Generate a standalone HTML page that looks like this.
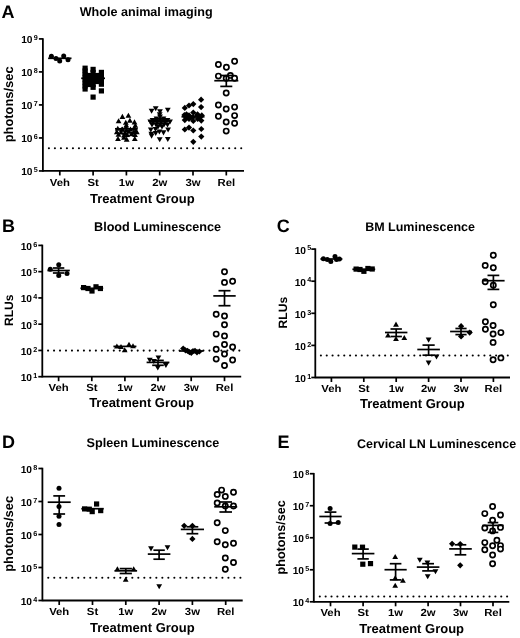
<!DOCTYPE html>
<html><head><meta charset="utf-8"><style>
html,body{margin:0;padding:0;background:#fff;}
body{width:520px;height:638px;overflow:hidden;}
svg{display:block;will-change:transform;}
text{font-family:"Liberation Sans", sans-serif;fill:#000;text-rendering:geometricPrecision;}
</style></head><body>
<svg width="520" height="638" viewBox="0 0 520 638">
<rect width="520" height="638" fill="#fff"/>
<line x1="42.90" y1="38.15" x2="42.90" y2="171.70" stroke="#000" stroke-width="1.8" />
<line x1="38.90" y1="38.90" x2="42.90" y2="38.90" stroke="#000" stroke-width="1.7" />
<line x1="38.90" y1="71.91" x2="42.90" y2="71.91" stroke="#000" stroke-width="1.7" />
<line x1="38.90" y1="104.92" x2="42.90" y2="104.92" stroke="#000" stroke-width="1.7" />
<line x1="38.90" y1="137.94" x2="42.90" y2="137.94" stroke="#000" stroke-width="1.7" />
<line x1="38.90" y1="170.95" x2="42.90" y2="170.95" stroke="#000" stroke-width="1.7" />
<line x1="42.90" y1="170.95" x2="244.00" y2="170.95" stroke="#000" stroke-width="1.8" />
<line x1="59.80" y1="170.95" x2="59.80" y2="175.45" stroke="#000" stroke-width="1.7" />
<line x1="93.10" y1="170.95" x2="93.10" y2="175.45" stroke="#000" stroke-width="1.7" />
<line x1="126.40" y1="170.95" x2="126.40" y2="175.45" stroke="#000" stroke-width="1.7" />
<line x1="159.70" y1="170.95" x2="159.70" y2="175.45" stroke="#000" stroke-width="1.7" />
<line x1="193.00" y1="170.95" x2="193.00" y2="175.45" stroke="#000" stroke-width="1.7" />
<line x1="226.30" y1="170.95" x2="226.30" y2="175.45" stroke="#000" stroke-width="1.7" />
<text x="32.50" y="43.30" font-size="10.2" font-weight="bold" text-anchor="end">10</text>
<text x="33.75" y="40.10" font-size="7.2" font-weight="bold">9</text>
<text x="32.50" y="76.31" font-size="10.2" font-weight="bold" text-anchor="end">10</text>
<text x="33.75" y="73.11" font-size="7.2" font-weight="bold">8</text>
<text x="32.50" y="109.32" font-size="10.2" font-weight="bold" text-anchor="end">10</text>
<text x="33.75" y="106.12" font-size="7.2" font-weight="bold">7</text>
<text x="32.50" y="142.34" font-size="10.2" font-weight="bold" text-anchor="end">10</text>
<text x="33.75" y="139.14" font-size="7.2" font-weight="bold">6</text>
<text x="32.50" y="175.35" font-size="10.2" font-weight="bold" text-anchor="end">10</text>
<text x="33.75" y="172.15" font-size="7.2" font-weight="bold">5</text>
<text transform="translate(59.80,186.20) scale(1.1,1)" font-size="10.3" font-weight="bold" text-anchor="middle">Veh</text>
<text transform="translate(93.10,186.20) scale(1.1,1)" font-size="10.3" font-weight="bold" text-anchor="middle">St</text>
<text transform="translate(126.40,186.20) scale(1.1,1)" font-size="10.3" font-weight="bold" text-anchor="middle">1w</text>
<text transform="translate(159.70,186.20) scale(1.1,1)" font-size="10.3" font-weight="bold" text-anchor="middle">2w</text>
<text transform="translate(193.00,186.20) scale(1.1,1)" font-size="10.3" font-weight="bold" text-anchor="middle">3w</text>
<text transform="translate(226.30,186.20) scale(1.1,1)" font-size="10.3" font-weight="bold" text-anchor="middle">Rel</text>
<text x="142.30" y="202.90" font-size="13.0" font-weight="bold" text-anchor="middle" >Treatment Group</text>
<text transform="translate(13.40,104.40) rotate(-90)" font-size="12.9" font-weight="bold" text-anchor="middle">photons/sec</text>
<text x="79.70" y="15.70" font-size="12.6" font-weight="bold" text-anchor="start" >Whole animal imaging</text>
<text x="1.50" y="18.10" font-size="18" font-weight="bold" text-anchor="start" >A</text>
<circle cx="48.90" cy="148.25" r="1.05"/>
<circle cx="54.91" cy="148.25" r="1.05"/>
<circle cx="60.92" cy="148.25" r="1.05"/>
<circle cx="66.93" cy="148.25" r="1.05"/>
<circle cx="72.94" cy="148.25" r="1.05"/>
<circle cx="78.95" cy="148.25" r="1.05"/>
<circle cx="84.96" cy="148.25" r="1.05"/>
<circle cx="90.97" cy="148.25" r="1.05"/>
<circle cx="96.98" cy="148.25" r="1.05"/>
<circle cx="102.99" cy="148.25" r="1.05"/>
<circle cx="109.00" cy="148.25" r="1.05"/>
<circle cx="115.01" cy="148.25" r="1.05"/>
<circle cx="121.02" cy="148.25" r="1.05"/>
<circle cx="127.03" cy="148.25" r="1.05"/>
<circle cx="133.04" cy="148.25" r="1.05"/>
<circle cx="139.05" cy="148.25" r="1.05"/>
<circle cx="145.06" cy="148.25" r="1.05"/>
<circle cx="151.07" cy="148.25" r="1.05"/>
<circle cx="157.08" cy="148.25" r="1.05"/>
<circle cx="163.09" cy="148.25" r="1.05"/>
<circle cx="169.10" cy="148.25" r="1.05"/>
<circle cx="175.11" cy="148.25" r="1.05"/>
<circle cx="181.12" cy="148.25" r="1.05"/>
<circle cx="187.13" cy="148.25" r="1.05"/>
<circle cx="193.14" cy="148.25" r="1.05"/>
<circle cx="199.15" cy="148.25" r="1.05"/>
<circle cx="205.16" cy="148.25" r="1.05"/>
<circle cx="211.17" cy="148.25" r="1.05"/>
<circle cx="217.18" cy="148.25" r="1.05"/>
<circle cx="223.19" cy="148.25" r="1.05"/>
<circle cx="229.20" cy="148.25" r="1.05"/>
<circle cx="235.21" cy="148.25" r="1.05"/>
<circle cx="241.22" cy="148.25" r="1.05"/>
<circle cx="51.40" cy="56.20" r="2.5"/>
<circle cx="56.00" cy="58.50" r="2.5"/>
<circle cx="59.70" cy="61.00" r="2.5"/>
<circle cx="63.70" cy="56.00" r="2.5"/>
<circle cx="68.00" cy="59.80" r="2.5"/>
<rect x="82.50" y="65.60" width="5.2" height="5.2"/>
<rect x="82.50" y="68.40" width="5.2" height="5.2"/>
<rect x="82.50" y="71.40" width="5.2" height="5.2"/>
<rect x="82.50" y="74.40" width="5.2" height="5.2"/>
<rect x="82.50" y="77.40" width="5.2" height="5.2"/>
<rect x="82.50" y="80.40" width="5.2" height="5.2"/>
<rect x="82.50" y="83.40" width="5.2" height="5.2"/>
<rect x="82.50" y="86.40" width="5.2" height="5.2"/>
<rect x="90.50" y="66.80" width="5.2" height="5.2"/>
<rect x="90.50" y="69.90" width="5.2" height="5.2"/>
<rect x="90.50" y="72.90" width="5.2" height="5.2"/>
<rect x="90.50" y="75.90" width="5.2" height="5.2"/>
<rect x="90.50" y="78.90" width="5.2" height="5.2"/>
<rect x="90.50" y="81.90" width="5.2" height="5.2"/>
<rect x="90.50" y="84.70" width="5.2" height="5.2"/>
<rect x="90.50" y="94.50" width="5.2" height="5.2"/>
<rect x="98.80" y="69.80" width="5.2" height="5.2"/>
<rect x="98.80" y="72.90" width="5.2" height="5.2"/>
<rect x="98.80" y="75.90" width="5.2" height="5.2"/>
<rect x="98.80" y="78.90" width="5.2" height="5.2"/>
<rect x="98.80" y="81.60" width="5.2" height="5.2"/>
<rect x="98.80" y="88.30" width="5.2" height="5.2"/>
<rect x="86.40" y="72.90" width="5.2" height="5.2"/>
<rect x="86.40" y="75.90" width="5.2" height="5.2"/>
<rect x="86.40" y="78.90" width="5.2" height="5.2"/>
<rect x="86.40" y="81.90" width="5.2" height="5.2"/>
<rect x="94.70" y="72.90" width="5.2" height="5.2"/>
<rect x="94.70" y="75.90" width="5.2" height="5.2"/>
<rect x="94.70" y="78.90" width="5.2" height="5.2"/>
<path d="M122.40 113.84L125.30 118.94L119.50 118.94Z"/>
<path d="M128.40 112.74L131.30 117.84L125.50 117.84Z"/>
<path d="M118.60 118.24L121.50 123.34L115.70 123.34Z"/>
<path d="M129.90 117.64L132.80 122.74L127.00 122.74Z"/>
<path d="M134.50 119.34L137.40 124.44L131.60 124.44Z"/>
<path d="M125.80 119.64L128.70 124.74L122.90 124.74Z"/>
<path d="M117.80 125.74L120.70 130.84L114.90 130.84Z"/>
<path d="M121.80 126.74L124.70 131.84L118.90 131.84Z"/>
<path d="M126.00 124.44L128.90 129.54L123.10 129.54Z"/>
<path d="M126.50 127.44L129.40 132.54L123.60 132.54Z"/>
<path d="M130.50 126.44L133.40 131.54L127.60 131.54Z"/>
<path d="M134.50 125.14L137.40 130.24L131.60 130.24Z"/>
<path d="M135.50 127.94L138.40 133.04L132.60 133.04Z"/>
<path d="M116.80 129.14L119.70 134.24L113.90 134.24Z"/>
<path d="M121.00 129.44L123.90 134.54L118.10 134.54Z"/>
<path d="M125.00 129.94L127.90 135.04L122.10 135.04Z"/>
<path d="M129.00 128.74L131.90 133.84L126.10 133.84Z"/>
<path d="M133.50 129.44L136.40 134.54L130.60 134.54Z"/>
<path d="M136.80 129.24L139.70 134.34L133.90 134.34Z"/>
<path d="M118.50 131.74L121.40 136.84L115.60 136.84Z"/>
<path d="M124.00 132.44L126.90 137.54L121.10 137.54Z"/>
<path d="M127.20 131.94L130.10 137.04L124.30 137.04Z"/>
<path d="M135.00 131.94L137.90 137.04L132.10 137.04Z"/>
<path d="M131.50 131.14L134.40 136.24L128.60 136.24Z"/>
<path d="M118.00 135.94L120.90 141.04L115.10 141.04Z"/>
<path d="M126.70 136.54L129.60 141.64L123.80 141.64Z"/>
<path d="M134.80 135.94L137.70 141.04L131.90 141.04Z"/>
<path d="M124.00 134.74L126.90 139.84L121.10 139.84Z"/>
<path d="M126.30 122.44L129.20 127.54L123.40 127.54Z"/>
<path d="M135.30 122.74L138.20 127.84L132.40 127.84Z"/>
<path d="M122.50 126.44L125.40 131.54L119.60 131.54Z"/>
<path d="M155.70 111.26L158.60 106.16L152.80 106.16Z"/>
<path d="M151.60 113.86L154.50 108.76L148.70 108.76Z"/>
<path d="M160.00 114.36L162.90 109.26L157.10 109.26Z"/>
<path d="M167.80 112.86L170.70 107.76L164.90 107.76Z"/>
<path d="M159.70 117.26L162.60 112.16L156.80 112.16Z"/>
<path d="M160.00 119.56L162.90 114.46L157.10 114.46Z"/>
<path d="M156.50 121.56L159.40 116.46L153.60 116.46Z"/>
<path d="M163.50 121.56L166.40 116.46L160.60 116.46Z"/>
<path d="M152.50 123.06L155.40 117.96L149.60 117.96Z"/>
<path d="M156.00 123.06L158.90 117.96L153.10 117.96Z"/>
<path d="M160.00 123.06L162.90 117.96L157.10 117.96Z"/>
<path d="M164.00 123.06L166.90 117.96L161.10 117.96Z"/>
<path d="M167.50 123.06L170.40 117.96L164.60 117.96Z"/>
<path d="M150.30 124.56L153.20 119.46L147.40 119.46Z"/>
<path d="M170.00 124.56L172.90 119.46L167.10 119.46Z"/>
<path d="M153.00 125.56L155.90 120.46L150.10 120.46Z"/>
<path d="M157.00 125.56L159.90 120.46L154.10 120.46Z"/>
<path d="M161.00 125.56L163.90 120.46L158.10 120.46Z"/>
<path d="M165.00 125.56L167.90 120.46L162.10 120.46Z"/>
<path d="M152.00 127.56L154.90 122.46L149.10 122.46Z"/>
<path d="M156.00 127.56L158.90 122.46L153.10 122.46Z"/>
<path d="M160.00 127.56L162.90 122.46L157.10 122.46Z"/>
<path d="M164.00 127.56L166.90 122.46L161.10 122.46Z"/>
<path d="M167.50 127.56L170.40 122.46L164.60 122.46Z"/>
<path d="M158.00 129.56L160.90 124.46L155.10 124.46Z"/>
<path d="M162.00 129.56L164.90 124.46L159.10 124.46Z"/>
<path d="M150.80 132.56L153.70 127.46L147.90 127.46Z"/>
<path d="M155.50 132.06L158.40 126.96L152.60 126.96Z"/>
<path d="M163.50 135.46L166.40 130.36L160.60 130.36Z"/>
<path d="M168.10 132.56L171.00 127.46L165.20 127.46Z"/>
<path d="M151.30 136.86L154.20 131.76L148.40 131.76Z"/>
<path d="M155.70 136.06L158.60 130.96L152.80 130.96Z"/>
<path d="M151.60 138.66L154.50 133.56L148.70 133.56Z"/>
<path d="M159.40 134.56L162.30 129.46L156.50 129.46Z"/>
<path d="M159.70 142.36L162.60 137.26L156.80 137.26Z"/>
<path d="M167.80 142.06L170.70 136.96L164.90 136.96Z"/>
<path d="M201.10 96.60L204.20 99.70L201.10 102.80L198.00 99.70Z"/>
<path d="M193.30 101.00L196.40 104.10L193.30 107.20L190.20 104.10Z"/>
<path d="M189.00 102.40L192.10 105.50L189.00 108.60L185.90 105.50Z"/>
<path d="M184.80 104.80L187.90 107.90L184.80 111.00L181.70 107.90Z"/>
<path d="M201.10 104.00L204.20 107.10L201.10 110.20L198.00 107.10Z"/>
<path d="M184.40 111.90L187.50 115.00L184.40 118.10L181.30 115.00Z"/>
<path d="M189.00 112.30L192.10 115.40L189.00 118.50L185.90 115.40Z"/>
<path d="M193.30 109.50L196.40 112.60L193.30 115.70L190.20 112.60Z"/>
<path d="M197.70 112.30L200.80 115.40L197.70 118.50L194.60 115.40Z"/>
<path d="M201.80 112.30L204.90 115.40L201.80 118.50L198.70 115.40Z"/>
<path d="M184.80 117.00L187.90 120.10L184.80 123.20L181.70 120.10Z"/>
<path d="M189.00 115.90L192.10 119.00L189.00 122.10L185.90 119.00Z"/>
<path d="M193.30 117.90L196.40 121.00L193.30 124.10L190.20 121.00Z"/>
<path d="M197.70 115.90L200.80 119.00L197.70 122.10L194.60 119.00Z"/>
<path d="M201.30 117.50L204.40 120.60L201.30 123.70L198.20 120.60Z"/>
<path d="M193.30 113.90L196.40 117.00L193.30 120.10L190.20 117.00Z"/>
<path d="M184.80 126.40L187.90 129.50L184.80 132.60L181.70 129.50Z"/>
<path d="M189.00 124.50L192.10 127.60L189.00 130.70L185.90 127.60Z"/>
<path d="M193.30 127.40L196.40 130.50L193.30 133.60L190.20 130.50Z"/>
<path d="M201.30 125.90L204.40 129.00L201.30 132.10L198.20 129.00Z"/>
<path d="M201.30 133.50L204.40 136.60L201.30 139.70L198.20 136.60Z"/>
<path d="M193.30 138.70L196.40 141.80L193.30 144.90L190.20 141.80Z"/>
<path d="M186.50 111.20L189.60 114.30L186.50 117.40L183.40 114.30Z"/>
<path d="M197.50 111.20L200.60 114.30L197.50 117.40L194.40 114.30Z"/>
<path d="M191.00 114.40L194.10 117.50L191.00 120.60L187.90 117.50Z"/>
<path d="M199.50 114.70L202.60 117.80L199.50 120.90L196.40 117.80Z"/>
<path d="M186.20 114.50L189.30 117.60L186.20 120.70L183.10 117.60Z"/>
<circle cx="218.40" cy="64.50" r="2.6" fill="#fff" stroke="#000" stroke-width="1.7"/>
<circle cx="226.40" cy="67.20" r="2.6" fill="#fff" stroke="#000" stroke-width="1.7"/>
<circle cx="234.60" cy="61.30" r="2.6" fill="#fff" stroke="#000" stroke-width="1.7"/>
<circle cx="218.40" cy="76.10" r="2.6" fill="#fff" stroke="#000" stroke-width="1.7"/>
<circle cx="230.40" cy="75.40" r="2.6" fill="#fff" stroke="#000" stroke-width="1.7"/>
<circle cx="234.60" cy="78.20" r="2.6" fill="#fff" stroke="#000" stroke-width="1.7"/>
<circle cx="226.20" cy="78.20" r="2.6" fill="#fff" stroke="#000" stroke-width="1.7"/>
<circle cx="226.20" cy="93.00" r="2.6" fill="#fff" stroke="#000" stroke-width="1.7"/>
<circle cx="218.40" cy="105.00" r="2.6" fill="#fff" stroke="#000" stroke-width="1.7"/>
<circle cx="226.20" cy="109.00" r="2.6" fill="#fff" stroke="#000" stroke-width="1.7"/>
<circle cx="234.60" cy="107.10" r="2.6" fill="#fff" stroke="#000" stroke-width="1.7"/>
<circle cx="218.40" cy="116.30" r="2.6" fill="#fff" stroke="#000" stroke-width="1.7"/>
<circle cx="234.60" cy="115.60" r="2.6" fill="#fff" stroke="#000" stroke-width="1.7"/>
<circle cx="226.20" cy="122.00" r="2.6" fill="#fff" stroke="#000" stroke-width="1.7"/>
<circle cx="234.60" cy="123.30" r="2.6" fill="#fff" stroke="#000" stroke-width="1.7"/>
<circle cx="226.20" cy="131.10" r="2.6" fill="#fff" stroke="#000" stroke-width="1.7"/>
<line x1="48.10" y1="58.30" x2="71.50" y2="58.30" stroke="#000" stroke-width="1.7" />
<line x1="81.20" y1="78.30" x2="105.00" y2="78.30" stroke="#000" stroke-width="1.7" />
<line x1="115.00" y1="128.80" x2="137.80" y2="128.80" stroke="#000" stroke-width="1.7" />
<line x1="148.10" y1="120.80" x2="171.30" y2="120.80" stroke="#000" stroke-width="1.7" />
<line x1="181.50" y1="116.80" x2="204.50" y2="116.80" stroke="#000" stroke-width="1.7" />
<line x1="214.30" y1="80.70" x2="238.30" y2="80.70" stroke="#000" stroke-width="1.7" />
<line x1="220.30" y1="75.50" x2="232.30" y2="75.50" stroke="#000" stroke-width="1.7" />
<line x1="226.30" y1="75.50" x2="226.30" y2="80.70" stroke="#000" stroke-width="1.7" />
<line x1="220.30" y1="86.40" x2="232.30" y2="86.40" stroke="#000" stroke-width="1.7" />
<line x1="226.30" y1="80.70" x2="226.30" y2="86.40" stroke="#000" stroke-width="1.7" />
<line x1="42.30" y1="244.65" x2="42.30" y2="377.45" stroke="#000" stroke-width="1.8" />
<line x1="38.30" y1="245.40" x2="42.30" y2="245.40" stroke="#000" stroke-width="1.7" />
<line x1="38.30" y1="271.66" x2="42.30" y2="271.66" stroke="#000" stroke-width="1.7" />
<line x1="38.30" y1="297.92" x2="42.30" y2="297.92" stroke="#000" stroke-width="1.7" />
<line x1="38.30" y1="324.18" x2="42.30" y2="324.18" stroke="#000" stroke-width="1.7" />
<line x1="38.30" y1="350.44" x2="42.30" y2="350.44" stroke="#000" stroke-width="1.7" />
<line x1="38.30" y1="376.70" x2="42.30" y2="376.70" stroke="#000" stroke-width="1.7" />
<line x1="42.30" y1="376.70" x2="241.20" y2="376.70" stroke="#000" stroke-width="1.8" />
<line x1="58.60" y1="376.70" x2="58.60" y2="381.20" stroke="#000" stroke-width="1.7" />
<line x1="91.80" y1="376.70" x2="91.80" y2="381.20" stroke="#000" stroke-width="1.7" />
<line x1="124.90" y1="376.70" x2="124.90" y2="381.20" stroke="#000" stroke-width="1.7" />
<line x1="158.00" y1="376.70" x2="158.00" y2="381.20" stroke="#000" stroke-width="1.7" />
<line x1="191.20" y1="376.70" x2="191.20" y2="381.20" stroke="#000" stroke-width="1.7" />
<line x1="224.50" y1="376.70" x2="224.50" y2="381.20" stroke="#000" stroke-width="1.7" />
<text x="32.00" y="249.80" font-size="10.2" font-weight="bold" text-anchor="end">10</text>
<text x="33.25" y="246.60" font-size="7.2" font-weight="bold">6</text>
<text x="32.00" y="276.06" font-size="10.2" font-weight="bold" text-anchor="end">10</text>
<text x="33.25" y="272.86" font-size="7.2" font-weight="bold">5</text>
<text x="32.00" y="302.32" font-size="10.2" font-weight="bold" text-anchor="end">10</text>
<text x="33.25" y="299.12" font-size="7.2" font-weight="bold">4</text>
<text x="32.00" y="328.58" font-size="10.2" font-weight="bold" text-anchor="end">10</text>
<text x="33.25" y="325.38" font-size="7.2" font-weight="bold">3</text>
<text x="32.00" y="354.84" font-size="10.2" font-weight="bold" text-anchor="end">10</text>
<text x="33.25" y="351.64" font-size="7.2" font-weight="bold">2</text>
<text x="32.00" y="381.10" font-size="10.2" font-weight="bold" text-anchor="end">10</text>
<text x="33.25" y="377.90" font-size="7.2" font-weight="bold">1</text>
<text transform="translate(58.60,390.60) scale(1.1,1)" font-size="10.3" font-weight="bold" text-anchor="middle">Veh</text>
<text transform="translate(91.80,390.60) scale(1.1,1)" font-size="10.3" font-weight="bold" text-anchor="middle">St</text>
<text transform="translate(124.90,390.60) scale(1.1,1)" font-size="10.3" font-weight="bold" text-anchor="middle">1w</text>
<text transform="translate(158.00,390.60) scale(1.1,1)" font-size="10.3" font-weight="bold" text-anchor="middle">2w</text>
<text transform="translate(191.20,390.60) scale(1.1,1)" font-size="10.3" font-weight="bold" text-anchor="middle">3w</text>
<text transform="translate(224.50,390.60) scale(1.1,1)" font-size="10.3" font-weight="bold" text-anchor="middle">Rel</text>
<text x="141.50" y="407.10" font-size="13.0" font-weight="bold" text-anchor="middle" >Treatment Group</text>
<text transform="translate(13.30,310.30) rotate(-90)" font-size="12.1" font-weight="bold" text-anchor="middle">RLUs</text>
<text x="94.00" y="231.40" font-size="12.65" font-weight="bold" text-anchor="start" >Blood Luminescence</text>
<text x="2.00" y="232.10" font-size="18" font-weight="bold" text-anchor="start" >B</text>
<circle cx="48.06" cy="350.60" r="1.05"/>
<circle cx="54.04" cy="350.60" r="1.05"/>
<circle cx="60.01" cy="350.60" r="1.05"/>
<circle cx="65.99" cy="350.60" r="1.05"/>
<circle cx="71.97" cy="350.60" r="1.05"/>
<circle cx="77.95" cy="350.60" r="1.05"/>
<circle cx="83.92" cy="350.60" r="1.05"/>
<circle cx="89.90" cy="350.60" r="1.05"/>
<circle cx="95.88" cy="350.60" r="1.05"/>
<circle cx="101.85" cy="350.60" r="1.05"/>
<circle cx="107.83" cy="350.60" r="1.05"/>
<circle cx="113.81" cy="350.60" r="1.05"/>
<circle cx="119.78" cy="350.60" r="1.05"/>
<circle cx="125.76" cy="350.60" r="1.05"/>
<circle cx="131.74" cy="350.60" r="1.05"/>
<circle cx="137.72" cy="350.60" r="1.05"/>
<circle cx="143.69" cy="350.60" r="1.05"/>
<circle cx="149.67" cy="350.60" r="1.05"/>
<circle cx="155.65" cy="350.60" r="1.05"/>
<circle cx="161.62" cy="350.60" r="1.05"/>
<circle cx="167.60" cy="350.60" r="1.05"/>
<circle cx="173.58" cy="350.60" r="1.05"/>
<circle cx="179.55" cy="350.60" r="1.05"/>
<circle cx="185.53" cy="350.60" r="1.05"/>
<circle cx="191.51" cy="350.60" r="1.05"/>
<circle cx="197.49" cy="350.60" r="1.05"/>
<circle cx="203.46" cy="350.60" r="1.05"/>
<circle cx="209.44" cy="350.60" r="1.05"/>
<circle cx="215.42" cy="350.60" r="1.05"/>
<circle cx="221.39" cy="350.60" r="1.05"/>
<circle cx="227.37" cy="350.60" r="1.05"/>
<circle cx="233.35" cy="350.60" r="1.05"/>
<circle cx="239.32" cy="350.60" r="1.05"/>
<circle cx="58.75" cy="264.75" r="2.5"/>
<circle cx="50.25" cy="269.25" r="2.5"/>
<circle cx="58.75" cy="275.50" r="2.5"/>
<circle cx="67.00" cy="273.50" r="2.5"/>
<rect x="81.00" y="285.00" width="5.2" height="5.2"/>
<rect x="89.40" y="288.40" width="5.2" height="5.2"/>
<rect x="93.40" y="284.20" width="5.2" height="5.2"/>
<rect x="97.80" y="285.90" width="5.2" height="5.2"/>
<rect x="85.40" y="285.90" width="5.2" height="5.2"/>
<path d="M116.90 343.44L119.80 348.54L114.00 348.54Z"/>
<path d="M129.00 341.74L131.90 346.84L126.10 346.84Z"/>
<path d="M133.00 343.24L135.90 348.34L130.10 348.34Z"/>
<path d="M124.70 347.14L127.60 352.24L121.80 352.24Z"/>
<path d="M121.00 343.94L123.90 349.04L118.10 349.04Z"/>
<path d="M158.40 360.56L161.30 355.46L155.50 355.46Z"/>
<path d="M149.80 362.86L152.70 357.76L146.90 357.76Z"/>
<path d="M165.90 368.06L168.80 362.96L163.00 362.96Z"/>
<path d="M157.80 370.56L160.70 365.46L154.90 365.46Z"/>
<path d="M153.80 364.06L156.70 358.96L150.90 358.96Z"/>
<path d="M183.20 345.40L186.30 348.50L183.20 351.60L180.10 348.50Z"/>
<path d="M191.30 349.70L194.40 352.80L191.30 355.90L188.20 352.80Z"/>
<path d="M199.40 348.40L202.50 351.50L199.40 354.60L196.30 351.50Z"/>
<path d="M195.00 347.70L198.10 350.80L195.00 353.90L191.90 350.80Z"/>
<path d="M187.50 347.70L190.60 350.80L187.50 353.90L184.40 350.80Z"/>
<path d="M197.00 349.20L200.10 352.30L197.00 355.40L193.90 352.30Z"/>
<path d="M189.50 349.10L192.60 352.20L189.50 355.30L186.40 352.20Z"/>
<path d="M193.00 348.10L196.10 351.20L193.00 354.30L189.90 351.20Z"/>
<path d="M185.50 347.20L188.60 350.30L185.50 353.40L182.40 350.30Z"/>
<circle cx="224.50" cy="271.70" r="2.6" fill="#fff" stroke="#000" stroke-width="1.7"/>
<circle cx="224.50" cy="282.40" r="2.6" fill="#fff" stroke="#000" stroke-width="1.7"/>
<circle cx="232.60" cy="281.20" r="2.6" fill="#fff" stroke="#000" stroke-width="1.7"/>
<circle cx="216.20" cy="314.30" r="2.6" fill="#fff" stroke="#000" stroke-width="1.7"/>
<circle cx="224.50" cy="316.00" r="2.6" fill="#fff" stroke="#000" stroke-width="1.7"/>
<circle cx="224.50" cy="324.70" r="2.6" fill="#fff" stroke="#000" stroke-width="1.7"/>
<circle cx="216.20" cy="334.10" r="2.6" fill="#fff" stroke="#000" stroke-width="1.7"/>
<circle cx="224.50" cy="335.90" r="2.6" fill="#fff" stroke="#000" stroke-width="1.7"/>
<circle cx="224.50" cy="344.50" r="2.6" fill="#fff" stroke="#000" stroke-width="1.7"/>
<circle cx="216.20" cy="349.30" r="2.6" fill="#fff" stroke="#000" stroke-width="1.7"/>
<circle cx="232.60" cy="347.00" r="2.6" fill="#fff" stroke="#000" stroke-width="1.7"/>
<circle cx="224.50" cy="354.00" r="2.6" fill="#fff" stroke="#000" stroke-width="1.7"/>
<circle cx="216.20" cy="359.10" r="2.6" fill="#fff" stroke="#000" stroke-width="1.7"/>
<circle cx="232.60" cy="360.00" r="2.6" fill="#fff" stroke="#000" stroke-width="1.7"/>
<circle cx="224.50" cy="365.50" r="2.6" fill="#fff" stroke="#000" stroke-width="1.7"/>
<line x1="47.40" y1="270.50" x2="69.80" y2="270.50" stroke="#000" stroke-width="1.7" />
<line x1="52.90" y1="268.00" x2="64.30" y2="268.00" stroke="#000" stroke-width="1.7" />
<line x1="58.60" y1="268.00" x2="58.60" y2="270.50" stroke="#000" stroke-width="1.7" />
<line x1="52.90" y1="273.00" x2="64.30" y2="273.00" stroke="#000" stroke-width="1.7" />
<line x1="58.60" y1="270.50" x2="58.60" y2="273.00" stroke="#000" stroke-width="1.7" />
<line x1="80.40" y1="288.30" x2="103.20" y2="288.30" stroke="#000" stroke-width="1.7" />
<line x1="113.40" y1="346.40" x2="136.40" y2="346.40" stroke="#000" stroke-width="1.7" />
<line x1="146.60" y1="362.40" x2="169.40" y2="362.40" stroke="#000" stroke-width="1.7" />
<line x1="152.20" y1="360.40" x2="163.80" y2="360.40" stroke="#000" stroke-width="1.7" />
<line x1="158.00" y1="360.40" x2="158.00" y2="362.40" stroke="#000" stroke-width="1.7" />
<line x1="152.20" y1="365.30" x2="163.80" y2="365.30" stroke="#000" stroke-width="1.7" />
<line x1="158.00" y1="362.40" x2="158.00" y2="365.30" stroke="#000" stroke-width="1.7" />
<line x1="179.20" y1="351.00" x2="203.20" y2="351.00" stroke="#000" stroke-width="1.7" />
<line x1="213.30" y1="295.90" x2="235.70" y2="295.90" stroke="#000" stroke-width="1.7" />
<line x1="218.50" y1="290.70" x2="230.50" y2="290.70" stroke="#000" stroke-width="1.7" />
<line x1="224.50" y1="290.70" x2="224.50" y2="295.90" stroke="#000" stroke-width="1.7" />
<line x1="218.50" y1="305.70" x2="230.50" y2="305.70" stroke="#000" stroke-width="1.7" />
<line x1="224.50" y1="295.90" x2="224.50" y2="305.70" stroke="#000" stroke-width="1.7" />
<line x1="315.30" y1="248.35" x2="315.30" y2="378.25" stroke="#000" stroke-width="1.8" />
<line x1="311.30" y1="249.10" x2="315.30" y2="249.10" stroke="#000" stroke-width="1.7" />
<line x1="311.30" y1="281.20" x2="315.30" y2="281.20" stroke="#000" stroke-width="1.7" />
<line x1="311.30" y1="313.30" x2="315.30" y2="313.30" stroke="#000" stroke-width="1.7" />
<line x1="311.30" y1="345.40" x2="315.30" y2="345.40" stroke="#000" stroke-width="1.7" />
<line x1="311.30" y1="377.50" x2="315.30" y2="377.50" stroke="#000" stroke-width="1.7" />
<line x1="315.30" y1="377.50" x2="510.00" y2="377.50" stroke="#000" stroke-width="1.8" />
<line x1="331.40" y1="377.50" x2="331.40" y2="382.00" stroke="#000" stroke-width="1.7" />
<line x1="363.80" y1="377.50" x2="363.80" y2="382.00" stroke="#000" stroke-width="1.7" />
<line x1="396.20" y1="377.50" x2="396.20" y2="382.00" stroke="#000" stroke-width="1.7" />
<line x1="428.60" y1="377.50" x2="428.60" y2="382.00" stroke="#000" stroke-width="1.7" />
<line x1="461.00" y1="377.50" x2="461.00" y2="382.00" stroke="#000" stroke-width="1.7" />
<line x1="493.40" y1="377.50" x2="493.40" y2="382.00" stroke="#000" stroke-width="1.7" />
<text x="306.00" y="253.50" font-size="10.2" font-weight="bold" text-anchor="end">10</text>
<text x="307.25" y="250.30" font-size="7.2" font-weight="bold">5</text>
<text x="306.00" y="285.60" font-size="10.2" font-weight="bold" text-anchor="end">10</text>
<text x="307.25" y="282.40" font-size="7.2" font-weight="bold">4</text>
<text x="306.00" y="317.70" font-size="10.2" font-weight="bold" text-anchor="end">10</text>
<text x="307.25" y="314.50" font-size="7.2" font-weight="bold">3</text>
<text x="306.00" y="349.80" font-size="10.2" font-weight="bold" text-anchor="end">10</text>
<text x="307.25" y="346.60" font-size="7.2" font-weight="bold">2</text>
<text x="306.00" y="381.90" font-size="10.2" font-weight="bold" text-anchor="end">10</text>
<text x="307.25" y="378.70" font-size="7.2" font-weight="bold">1</text>
<text transform="translate(331.40,392.00) scale(1.1,1)" font-size="10.3" font-weight="bold" text-anchor="middle">Veh</text>
<text transform="translate(363.80,392.00) scale(1.1,1)" font-size="10.3" font-weight="bold" text-anchor="middle">St</text>
<text transform="translate(396.20,392.00) scale(1.1,1)" font-size="10.3" font-weight="bold" text-anchor="middle">1w</text>
<text transform="translate(428.60,392.00) scale(1.1,1)" font-size="10.3" font-weight="bold" text-anchor="middle">2w</text>
<text transform="translate(461.00,392.00) scale(1.1,1)" font-size="10.3" font-weight="bold" text-anchor="middle">3w</text>
<text transform="translate(493.40,392.00) scale(1.1,1)" font-size="10.3" font-weight="bold" text-anchor="middle">Rel</text>
<text x="412.30" y="408.10" font-size="13.0" font-weight="bold" text-anchor="middle" >Treatment Group</text>
<text transform="translate(287.20,312.60) rotate(-90)" font-size="12.1" font-weight="bold" text-anchor="middle">RLUs</text>
<text x="365.20" y="231.30" font-size="12.5" font-weight="bold" text-anchor="start" >BM Luminescence</text>
<text x="276.80" y="232.40" font-size="18" font-weight="bold" text-anchor="start" >C</text>
<circle cx="320.90" cy="355.50" r="1.05"/>
<circle cx="326.74" cy="355.50" r="1.05"/>
<circle cx="332.58" cy="355.50" r="1.05"/>
<circle cx="338.42" cy="355.50" r="1.05"/>
<circle cx="344.26" cy="355.50" r="1.05"/>
<circle cx="350.10" cy="355.50" r="1.05"/>
<circle cx="355.94" cy="355.50" r="1.05"/>
<circle cx="361.78" cy="355.50" r="1.05"/>
<circle cx="367.62" cy="355.50" r="1.05"/>
<circle cx="373.46" cy="355.50" r="1.05"/>
<circle cx="379.30" cy="355.50" r="1.05"/>
<circle cx="385.14" cy="355.50" r="1.05"/>
<circle cx="390.98" cy="355.50" r="1.05"/>
<circle cx="396.82" cy="355.50" r="1.05"/>
<circle cx="402.66" cy="355.50" r="1.05"/>
<circle cx="408.50" cy="355.50" r="1.05"/>
<circle cx="414.34" cy="355.50" r="1.05"/>
<circle cx="420.18" cy="355.50" r="1.05"/>
<circle cx="426.02" cy="355.50" r="1.05"/>
<circle cx="431.86" cy="355.50" r="1.05"/>
<circle cx="437.70" cy="355.50" r="1.05"/>
<circle cx="443.54" cy="355.50" r="1.05"/>
<circle cx="449.38" cy="355.50" r="1.05"/>
<circle cx="455.22" cy="355.50" r="1.05"/>
<circle cx="461.06" cy="355.50" r="1.05"/>
<circle cx="466.90" cy="355.50" r="1.05"/>
<circle cx="472.74" cy="355.50" r="1.05"/>
<circle cx="478.58" cy="355.50" r="1.05"/>
<circle cx="484.42" cy="355.50" r="1.05"/>
<circle cx="490.26" cy="355.50" r="1.05"/>
<circle cx="496.10" cy="355.50" r="1.05"/>
<circle cx="501.94" cy="355.50" r="1.05"/>
<circle cx="507.78" cy="355.50" r="1.05"/>
<circle cx="323.40" cy="258.80" r="2.5"/>
<circle cx="327.30" cy="259.60" r="2.5"/>
<circle cx="330.80" cy="261.50" r="2.5"/>
<circle cx="335.00" cy="256.50" r="2.5"/>
<circle cx="336.50" cy="259.60" r="2.5"/>
<circle cx="339.40" cy="259.00" r="2.5"/>
<rect x="353.50" y="266.50" width="5.2" height="5.2"/>
<rect x="361.30" y="268.70" width="5.2" height="5.2"/>
<rect x="365.30" y="265.90" width="5.2" height="5.2"/>
<rect x="369.60" y="266.40" width="5.2" height="5.2"/>
<rect x="357.40" y="266.90" width="5.2" height="5.2"/>
<path d="M396.00 321.54L398.90 326.64L393.10 326.64Z"/>
<path d="M388.00 332.44L390.90 337.54L385.10 337.54Z"/>
<path d="M396.00 335.94L398.90 341.04L393.10 341.04Z"/>
<path d="M404.30 334.94L407.20 340.04L401.40 340.04Z"/>
<path d="M428.60 342.66L431.50 337.56L425.70 337.56Z"/>
<path d="M436.50 359.56L439.40 354.46L433.60 354.46Z"/>
<path d="M428.60 365.66L431.50 360.56L425.70 360.56Z"/>
<path d="M461.10 323.10L464.20 326.20L461.10 329.30L458.00 326.20Z"/>
<path d="M461.10 333.30L464.20 336.40L461.10 339.50L458.00 336.40Z"/>
<path d="M469.70 329.50L472.80 332.60L469.70 335.70L466.60 332.60Z"/>
<circle cx="493.30" cy="255.20" r="2.6" fill="#fff" stroke="#000" stroke-width="1.7"/>
<circle cx="485.20" cy="265.40" r="2.6" fill="#fff" stroke="#000" stroke-width="1.7"/>
<circle cx="493.30" cy="267.70" r="2.6" fill="#fff" stroke="#000" stroke-width="1.7"/>
<circle cx="485.20" cy="281.70" r="2.6" fill="#fff" stroke="#000" stroke-width="1.7"/>
<circle cx="493.30" cy="285.30" r="2.6" fill="#fff" stroke="#000" stroke-width="1.7"/>
<circle cx="493.30" cy="304.70" r="2.6" fill="#fff" stroke="#000" stroke-width="1.7"/>
<circle cx="485.40" cy="321.70" r="2.6" fill="#fff" stroke="#000" stroke-width="1.7"/>
<circle cx="485.40" cy="329.30" r="2.6" fill="#fff" stroke="#000" stroke-width="1.7"/>
<circle cx="493.10" cy="325.50" r="2.6" fill="#fff" stroke="#000" stroke-width="1.7"/>
<circle cx="493.10" cy="334.00" r="2.6" fill="#fff" stroke="#000" stroke-width="1.7"/>
<circle cx="500.90" cy="332.60" r="2.6" fill="#fff" stroke="#000" stroke-width="1.7"/>
<circle cx="493.10" cy="342.40" r="2.6" fill="#fff" stroke="#000" stroke-width="1.7"/>
<circle cx="493.10" cy="359.80" r="2.6" fill="#fff" stroke="#000" stroke-width="1.7"/>
<circle cx="500.90" cy="357.90" r="2.6" fill="#fff" stroke="#000" stroke-width="1.7"/>
<line x1="320.40" y1="259.00" x2="342.40" y2="259.00" stroke="#000" stroke-width="1.7" />
<line x1="352.40" y1="269.30" x2="375.20" y2="269.30" stroke="#000" stroke-width="1.7" />
<line x1="385.00" y1="332.50" x2="407.40" y2="332.50" stroke="#000" stroke-width="1.7" />
<line x1="390.50" y1="329.00" x2="401.90" y2="329.00" stroke="#000" stroke-width="1.7" />
<line x1="396.20" y1="329.00" x2="396.20" y2="332.50" stroke="#000" stroke-width="1.7" />
<line x1="390.50" y1="336.50" x2="401.90" y2="336.50" stroke="#000" stroke-width="1.7" />
<line x1="396.20" y1="332.50" x2="396.20" y2="336.50" stroke="#000" stroke-width="1.7" />
<line x1="417.30" y1="349.50" x2="439.90" y2="349.50" stroke="#000" stroke-width="1.7" />
<line x1="422.50" y1="345.10" x2="434.70" y2="345.10" stroke="#000" stroke-width="1.7" />
<line x1="428.60" y1="345.10" x2="428.60" y2="349.50" stroke="#000" stroke-width="1.7" />
<line x1="422.50" y1="355.20" x2="434.70" y2="355.20" stroke="#000" stroke-width="1.7" />
<line x1="428.60" y1="349.50" x2="428.60" y2="355.20" stroke="#000" stroke-width="1.7" />
<line x1="450.10" y1="331.50" x2="471.90" y2="331.50" stroke="#000" stroke-width="1.7" />
<line x1="455.40" y1="328.50" x2="466.60" y2="328.50" stroke="#000" stroke-width="1.7" />
<line x1="461.00" y1="328.50" x2="461.00" y2="331.50" stroke="#000" stroke-width="1.7" />
<line x1="455.40" y1="334.60" x2="466.60" y2="334.60" stroke="#000" stroke-width="1.7" />
<line x1="461.00" y1="331.50" x2="461.00" y2="334.60" stroke="#000" stroke-width="1.7" />
<line x1="482.20" y1="280.70" x2="504.60" y2="280.70" stroke="#000" stroke-width="1.7" />
<line x1="487.50" y1="275.40" x2="499.30" y2="275.40" stroke="#000" stroke-width="1.7" />
<line x1="493.40" y1="275.40" x2="493.40" y2="280.70" stroke="#000" stroke-width="1.7" />
<line x1="487.50" y1="289.40" x2="499.30" y2="289.40" stroke="#000" stroke-width="1.7" />
<line x1="493.40" y1="280.70" x2="493.40" y2="289.40" stroke="#000" stroke-width="1.7" />
<line x1="42.40" y1="467.75" x2="42.40" y2="601.25" stroke="#000" stroke-width="1.8" />
<line x1="38.40" y1="468.50" x2="42.40" y2="468.50" stroke="#000" stroke-width="1.7" />
<line x1="38.40" y1="501.50" x2="42.40" y2="501.50" stroke="#000" stroke-width="1.7" />
<line x1="38.40" y1="534.50" x2="42.40" y2="534.50" stroke="#000" stroke-width="1.7" />
<line x1="38.40" y1="567.50" x2="42.40" y2="567.50" stroke="#000" stroke-width="1.7" />
<line x1="38.40" y1="600.50" x2="42.40" y2="600.50" stroke="#000" stroke-width="1.7" />
<line x1="42.40" y1="600.50" x2="242.70" y2="600.50" stroke="#000" stroke-width="1.8" />
<line x1="59.20" y1="600.50" x2="59.20" y2="605.00" stroke="#000" stroke-width="1.7" />
<line x1="92.50" y1="600.50" x2="92.50" y2="605.00" stroke="#000" stroke-width="1.7" />
<line x1="125.80" y1="600.50" x2="125.80" y2="605.00" stroke="#000" stroke-width="1.7" />
<line x1="159.10" y1="600.50" x2="159.10" y2="605.00" stroke="#000" stroke-width="1.7" />
<line x1="192.40" y1="600.50" x2="192.40" y2="605.00" stroke="#000" stroke-width="1.7" />
<line x1="225.70" y1="600.50" x2="225.70" y2="605.00" stroke="#000" stroke-width="1.7" />
<text x="32.00" y="472.90" font-size="10.2" font-weight="bold" text-anchor="end">10</text>
<text x="33.25" y="469.70" font-size="7.2" font-weight="bold">8</text>
<text x="32.00" y="505.90" font-size="10.2" font-weight="bold" text-anchor="end">10</text>
<text x="33.25" y="502.70" font-size="7.2" font-weight="bold">7</text>
<text x="32.00" y="538.90" font-size="10.2" font-weight="bold" text-anchor="end">10</text>
<text x="33.25" y="535.70" font-size="7.2" font-weight="bold">6</text>
<text x="32.00" y="571.90" font-size="10.2" font-weight="bold" text-anchor="end">10</text>
<text x="33.25" y="568.70" font-size="7.2" font-weight="bold">5</text>
<text x="32.00" y="604.90" font-size="10.2" font-weight="bold" text-anchor="end">10</text>
<text x="33.25" y="601.70" font-size="7.2" font-weight="bold">4</text>
<text transform="translate(59.20,615.00) scale(1.1,1)" font-size="10.3" font-weight="bold" text-anchor="middle">Veh</text>
<text transform="translate(92.50,615.00) scale(1.1,1)" font-size="10.3" font-weight="bold" text-anchor="middle">St</text>
<text transform="translate(125.80,615.00) scale(1.1,1)" font-size="10.3" font-weight="bold" text-anchor="middle">1w</text>
<text transform="translate(159.10,615.00) scale(1.1,1)" font-size="10.3" font-weight="bold" text-anchor="middle">2w</text>
<text transform="translate(192.40,615.00) scale(1.1,1)" font-size="10.3" font-weight="bold" text-anchor="middle">3w</text>
<text transform="translate(225.70,615.00) scale(1.1,1)" font-size="10.3" font-weight="bold" text-anchor="middle">Rel</text>
<text x="142.30" y="632.10" font-size="13.0" font-weight="bold" text-anchor="middle" >Treatment Group</text>
<text transform="translate(13.00,533.90) rotate(-90)" font-size="12.9" font-weight="bold" text-anchor="middle">photons/sec</text>
<text x="86.60" y="446.90" font-size="12.65" font-weight="bold" text-anchor="start" >Spleen Luminescence</text>
<text x="2.00" y="448.20" font-size="18" font-weight="bold" text-anchor="start" >D</text>
<circle cx="48.25" cy="577.70" r="1.05"/>
<circle cx="54.26" cy="577.70" r="1.05"/>
<circle cx="60.26" cy="577.70" r="1.05"/>
<circle cx="66.27" cy="577.70" r="1.05"/>
<circle cx="72.27" cy="577.70" r="1.05"/>
<circle cx="78.28" cy="577.70" r="1.05"/>
<circle cx="84.28" cy="577.70" r="1.05"/>
<circle cx="90.28" cy="577.70" r="1.05"/>
<circle cx="96.29" cy="577.70" r="1.05"/>
<circle cx="102.30" cy="577.70" r="1.05"/>
<circle cx="108.30" cy="577.70" r="1.05"/>
<circle cx="114.30" cy="577.70" r="1.05"/>
<circle cx="120.31" cy="577.70" r="1.05"/>
<circle cx="126.31" cy="577.70" r="1.05"/>
<circle cx="132.32" cy="577.70" r="1.05"/>
<circle cx="138.32" cy="577.70" r="1.05"/>
<circle cx="144.33" cy="577.70" r="1.05"/>
<circle cx="150.33" cy="577.70" r="1.05"/>
<circle cx="156.34" cy="577.70" r="1.05"/>
<circle cx="162.34" cy="577.70" r="1.05"/>
<circle cx="168.35" cy="577.70" r="1.05"/>
<circle cx="174.36" cy="577.70" r="1.05"/>
<circle cx="180.36" cy="577.70" r="1.05"/>
<circle cx="186.37" cy="577.70" r="1.05"/>
<circle cx="192.37" cy="577.70" r="1.05"/>
<circle cx="198.38" cy="577.70" r="1.05"/>
<circle cx="204.38" cy="577.70" r="1.05"/>
<circle cx="210.38" cy="577.70" r="1.05"/>
<circle cx="216.39" cy="577.70" r="1.05"/>
<circle cx="222.40" cy="577.70" r="1.05"/>
<circle cx="228.40" cy="577.70" r="1.05"/>
<circle cx="234.41" cy="577.70" r="1.05"/>
<circle cx="240.41" cy="577.70" r="1.05"/>
<circle cx="59.00" cy="488.20" r="2.5"/>
<circle cx="59.00" cy="506.60" r="2.5"/>
<circle cx="59.00" cy="516.20" r="2.5"/>
<circle cx="59.00" cy="524.50" r="2.5"/>
<rect x="82.00" y="506.30" width="5.2" height="5.2"/>
<rect x="89.60" y="509.00" width="5.2" height="5.2"/>
<rect x="94.00" y="501.40" width="5.2" height="5.2"/>
<rect x="98.10" y="508.00" width="5.2" height="5.2"/>
<rect x="86.70" y="506.60" width="5.2" height="5.2"/>
<path d="M117.40 566.24L120.30 571.34L114.50 571.34Z"/>
<path d="M133.70 566.24L136.60 571.34L130.80 571.34Z"/>
<path d="M125.70 576.74L128.60 581.84L122.80 581.84Z"/>
<path d="M151.00 551.46L153.90 546.36L148.10 546.36Z"/>
<path d="M167.50 550.26L170.40 545.16L164.60 545.16Z"/>
<path d="M159.20 589.26L162.10 584.16L156.30 584.16Z"/>
<path d="M184.20 522.70L187.30 525.80L184.20 528.90L181.10 525.80Z"/>
<path d="M192.40 522.70L195.50 525.80L192.40 528.90L189.30 525.80Z"/>
<path d="M192.40 535.80L195.50 538.90L192.40 542.00L189.30 538.90Z"/>
<circle cx="221.60" cy="490.10" r="2.6" fill="#fff" stroke="#000" stroke-width="1.7"/>
<circle cx="217.20" cy="494.40" r="2.6" fill="#fff" stroke="#000" stroke-width="1.7"/>
<circle cx="225.30" cy="496.40" r="2.6" fill="#fff" stroke="#000" stroke-width="1.7"/>
<circle cx="233.50" cy="492.20" r="2.6" fill="#fff" stroke="#000" stroke-width="1.7"/>
<circle cx="217.20" cy="503.00" r="2.6" fill="#fff" stroke="#000" stroke-width="1.7"/>
<circle cx="225.30" cy="506.00" r="2.6" fill="#fff" stroke="#000" stroke-width="1.7"/>
<circle cx="233.50" cy="506.00" r="2.6" fill="#fff" stroke="#000" stroke-width="1.7"/>
<circle cx="217.20" cy="522.80" r="2.6" fill="#fff" stroke="#000" stroke-width="1.7"/>
<circle cx="225.30" cy="530.60" r="2.6" fill="#fff" stroke="#000" stroke-width="1.7"/>
<circle cx="217.20" cy="541.70" r="2.6" fill="#fff" stroke="#000" stroke-width="1.7"/>
<circle cx="225.30" cy="544.70" r="2.6" fill="#fff" stroke="#000" stroke-width="1.7"/>
<circle cx="233.50" cy="543.20" r="2.6" fill="#fff" stroke="#000" stroke-width="1.7"/>
<circle cx="225.30" cy="558.00" r="2.6" fill="#fff" stroke="#000" stroke-width="1.7"/>
<circle cx="233.50" cy="562.50" r="2.6" fill="#fff" stroke="#000" stroke-width="1.7"/>
<circle cx="225.30" cy="569.20" r="2.6" fill="#fff" stroke="#000" stroke-width="1.7"/>
<line x1="47.70" y1="502.20" x2="70.70" y2="502.20" stroke="#000" stroke-width="1.7" />
<line x1="53.30" y1="495.90" x2="65.10" y2="495.90" stroke="#000" stroke-width="1.7" />
<line x1="59.20" y1="495.90" x2="59.20" y2="502.20" stroke="#000" stroke-width="1.7" />
<line x1="53.30" y1="514.00" x2="65.10" y2="514.00" stroke="#000" stroke-width="1.7" />
<line x1="59.20" y1="502.20" x2="59.20" y2="514.00" stroke="#000" stroke-width="1.7" />
<line x1="81.30" y1="508.70" x2="103.70" y2="508.70" stroke="#000" stroke-width="1.7" />
<line x1="114.50" y1="570.80" x2="137.10" y2="570.80" stroke="#000" stroke-width="1.7" />
<line x1="119.70" y1="568.60" x2="131.90" y2="568.60" stroke="#000" stroke-width="1.7" />
<line x1="125.80" y1="568.60" x2="125.80" y2="570.80" stroke="#000" stroke-width="1.7" />
<line x1="119.70" y1="573.50" x2="131.90" y2="573.50" stroke="#000" stroke-width="1.7" />
<line x1="125.80" y1="570.80" x2="125.80" y2="573.50" stroke="#000" stroke-width="1.7" />
<line x1="147.80" y1="554.10" x2="170.40" y2="554.10" stroke="#000" stroke-width="1.7" />
<line x1="153.40" y1="550.20" x2="164.80" y2="550.20" stroke="#000" stroke-width="1.7" />
<line x1="159.10" y1="550.20" x2="159.10" y2="554.10" stroke="#000" stroke-width="1.7" />
<line x1="153.40" y1="559.20" x2="164.80" y2="559.20" stroke="#000" stroke-width="1.7" />
<line x1="159.10" y1="554.10" x2="159.10" y2="559.20" stroke="#000" stroke-width="1.7" />
<line x1="180.80" y1="529.40" x2="204.00" y2="529.40" stroke="#000" stroke-width="1.7" />
<line x1="186.50" y1="526.80" x2="198.30" y2="526.80" stroke="#000" stroke-width="1.7" />
<line x1="192.40" y1="526.80" x2="192.40" y2="529.40" stroke="#000" stroke-width="1.7" />
<line x1="186.50" y1="533.70" x2="198.30" y2="533.70" stroke="#000" stroke-width="1.7" />
<line x1="192.40" y1="529.40" x2="192.40" y2="533.70" stroke="#000" stroke-width="1.7" />
<line x1="214.20" y1="506.80" x2="237.20" y2="506.80" stroke="#000" stroke-width="1.7" />
<line x1="219.40" y1="502.00" x2="232.00" y2="502.00" stroke="#000" stroke-width="1.7" />
<line x1="225.70" y1="502.00" x2="225.70" y2="506.80" stroke="#000" stroke-width="1.7" />
<line x1="219.40" y1="512.00" x2="232.00" y2="512.00" stroke="#000" stroke-width="1.7" />
<line x1="225.70" y1="506.80" x2="225.70" y2="512.00" stroke="#000" stroke-width="1.7" />
<line x1="313.80" y1="472.95" x2="313.80" y2="602.55" stroke="#000" stroke-width="1.8" />
<line x1="309.80" y1="473.70" x2="313.80" y2="473.70" stroke="#000" stroke-width="1.7" />
<line x1="309.80" y1="505.72" x2="313.80" y2="505.72" stroke="#000" stroke-width="1.7" />
<line x1="309.80" y1="537.75" x2="313.80" y2="537.75" stroke="#000" stroke-width="1.7" />
<line x1="309.80" y1="569.77" x2="313.80" y2="569.77" stroke="#000" stroke-width="1.7" />
<line x1="309.80" y1="601.80" x2="313.80" y2="601.80" stroke="#000" stroke-width="1.7" />
<line x1="313.80" y1="601.80" x2="509.30" y2="601.80" stroke="#000" stroke-width="1.8" />
<line x1="330.50" y1="601.80" x2="330.50" y2="606.30" stroke="#000" stroke-width="1.7" />
<line x1="363.10" y1="601.80" x2="363.10" y2="606.30" stroke="#000" stroke-width="1.7" />
<line x1="395.60" y1="601.80" x2="395.60" y2="606.30" stroke="#000" stroke-width="1.7" />
<line x1="428.10" y1="601.80" x2="428.10" y2="606.30" stroke="#000" stroke-width="1.7" />
<line x1="460.50" y1="601.80" x2="460.50" y2="606.30" stroke="#000" stroke-width="1.7" />
<line x1="493.00" y1="601.80" x2="493.00" y2="606.30" stroke="#000" stroke-width="1.7" />
<text x="304.00" y="478.10" font-size="10.2" font-weight="bold" text-anchor="end">10</text>
<text x="305.25" y="474.90" font-size="7.2" font-weight="bold">8</text>
<text x="304.00" y="510.12" font-size="10.2" font-weight="bold" text-anchor="end">10</text>
<text x="305.25" y="506.92" font-size="7.2" font-weight="bold">7</text>
<text x="304.00" y="542.15" font-size="10.2" font-weight="bold" text-anchor="end">10</text>
<text x="305.25" y="538.95" font-size="7.2" font-weight="bold">6</text>
<text x="304.00" y="574.17" font-size="10.2" font-weight="bold" text-anchor="end">10</text>
<text x="305.25" y="570.97" font-size="7.2" font-weight="bold">5</text>
<text x="304.00" y="606.20" font-size="10.2" font-weight="bold" text-anchor="end">10</text>
<text x="305.25" y="603.00" font-size="7.2" font-weight="bold">4</text>
<text transform="translate(330.50,615.70) scale(1.1,1)" font-size="10.3" font-weight="bold" text-anchor="middle">Veh</text>
<text transform="translate(363.10,615.70) scale(1.1,1)" font-size="10.3" font-weight="bold" text-anchor="middle">St</text>
<text transform="translate(395.60,615.70) scale(1.1,1)" font-size="10.3" font-weight="bold" text-anchor="middle">1w</text>
<text transform="translate(428.10,615.70) scale(1.1,1)" font-size="10.3" font-weight="bold" text-anchor="middle">2w</text>
<text transform="translate(460.50,615.70) scale(1.1,1)" font-size="10.3" font-weight="bold" text-anchor="middle">3w</text>
<text transform="translate(493.00,615.70) scale(1.1,1)" font-size="10.3" font-weight="bold" text-anchor="middle">Rel</text>
<text x="411.70" y="632.50" font-size="13.0" font-weight="bold" text-anchor="middle" >Treatment Group</text>
<text transform="translate(285.30,537.40) rotate(-90)" font-size="12.6" font-weight="bold" text-anchor="middle">photons/sec</text>
<text x="357.00" y="448.40" font-size="12.5" font-weight="bold" text-anchor="start" >Cervical LN Luminescence</text>
<text x="277.40" y="448.30" font-size="18" font-weight="bold" text-anchor="start" >E</text>
<circle cx="319.80" cy="596.50" r="1.05"/>
<circle cx="325.65" cy="596.50" r="1.05"/>
<circle cx="331.51" cy="596.50" r="1.05"/>
<circle cx="337.36" cy="596.50" r="1.05"/>
<circle cx="343.21" cy="596.50" r="1.05"/>
<circle cx="349.06" cy="596.50" r="1.05"/>
<circle cx="354.92" cy="596.50" r="1.05"/>
<circle cx="360.77" cy="596.50" r="1.05"/>
<circle cx="366.62" cy="596.50" r="1.05"/>
<circle cx="372.48" cy="596.50" r="1.05"/>
<circle cx="378.33" cy="596.50" r="1.05"/>
<circle cx="384.18" cy="596.50" r="1.05"/>
<circle cx="390.04" cy="596.50" r="1.05"/>
<circle cx="395.89" cy="596.50" r="1.05"/>
<circle cx="401.74" cy="596.50" r="1.05"/>
<circle cx="407.60" cy="596.50" r="1.05"/>
<circle cx="413.45" cy="596.50" r="1.05"/>
<circle cx="419.30" cy="596.50" r="1.05"/>
<circle cx="425.15" cy="596.50" r="1.05"/>
<circle cx="431.01" cy="596.50" r="1.05"/>
<circle cx="436.86" cy="596.50" r="1.05"/>
<circle cx="442.71" cy="596.50" r="1.05"/>
<circle cx="448.57" cy="596.50" r="1.05"/>
<circle cx="454.42" cy="596.50" r="1.05"/>
<circle cx="460.27" cy="596.50" r="1.05"/>
<circle cx="466.12" cy="596.50" r="1.05"/>
<circle cx="471.98" cy="596.50" r="1.05"/>
<circle cx="477.83" cy="596.50" r="1.05"/>
<circle cx="483.68" cy="596.50" r="1.05"/>
<circle cx="489.54" cy="596.50" r="1.05"/>
<circle cx="495.39" cy="596.50" r="1.05"/>
<circle cx="501.24" cy="596.50" r="1.05"/>
<circle cx="507.10" cy="596.50" r="1.05"/>
<circle cx="330.10" cy="508.50" r="2.5"/>
<circle cx="330.10" cy="523.50" r="2.5"/>
<circle cx="338.20" cy="522.60" r="2.5"/>
<rect x="352.20" y="544.50" width="5.2" height="5.2"/>
<rect x="359.90" y="544.60" width="5.2" height="5.2"/>
<rect x="360.20" y="561.60" width="5.2" height="5.2"/>
<rect x="367.90" y="561.00" width="5.2" height="5.2"/>
<path d="M395.20 553.94L398.10 559.04L392.30 559.04Z"/>
<path d="M395.20 575.24L398.10 580.34L392.30 580.34Z"/>
<path d="M402.90 577.74L405.80 582.84L400.00 582.84Z"/>
<path d="M395.20 582.64L398.10 587.74L392.30 587.74Z"/>
<path d="M419.80 562.86L422.70 557.76L416.90 557.76Z"/>
<path d="M427.40 565.66L430.30 560.56L424.50 560.56Z"/>
<path d="M435.50 574.36L438.40 569.26L432.60 569.26Z"/>
<path d="M427.70 579.26L430.60 574.16L424.80 574.16Z"/>
<path d="M452.10 540.70L455.20 543.80L452.10 546.90L449.00 543.80Z"/>
<path d="M460.20 541.00L463.30 544.10L460.20 547.20L457.10 544.10Z"/>
<path d="M460.20 562.20L463.30 565.30L460.20 568.40L457.10 565.30Z"/>
<circle cx="492.60" cy="506.50" r="2.6" fill="#fff" stroke="#000" stroke-width="1.7"/>
<circle cx="484.80" cy="513.60" r="2.6" fill="#fff" stroke="#000" stroke-width="1.7"/>
<circle cx="500.50" cy="515.00" r="2.6" fill="#fff" stroke="#000" stroke-width="1.7"/>
<circle cx="492.60" cy="520.30" r="2.6" fill="#fff" stroke="#000" stroke-width="1.7"/>
<circle cx="484.80" cy="528.00" r="2.6" fill="#fff" stroke="#000" stroke-width="1.7"/>
<circle cx="500.50" cy="527.40" r="2.6" fill="#fff" stroke="#000" stroke-width="1.7"/>
<circle cx="492.60" cy="530.90" r="2.6" fill="#fff" stroke="#000" stroke-width="1.7"/>
<circle cx="496.90" cy="540.30" r="2.6" fill="#fff" stroke="#000" stroke-width="1.7"/>
<circle cx="484.80" cy="542.60" r="2.6" fill="#fff" stroke="#000" stroke-width="1.7"/>
<circle cx="484.80" cy="549.70" r="2.6" fill="#fff" stroke="#000" stroke-width="1.7"/>
<circle cx="492.60" cy="545.80" r="2.6" fill="#fff" stroke="#000" stroke-width="1.7"/>
<circle cx="500.50" cy="545.60" r="2.6" fill="#fff" stroke="#000" stroke-width="1.7"/>
<circle cx="500.50" cy="549.10" r="2.6" fill="#fff" stroke="#000" stroke-width="1.7"/>
<circle cx="492.60" cy="555.00" r="2.6" fill="#fff" stroke="#000" stroke-width="1.7"/>
<circle cx="492.60" cy="563.80" r="2.6" fill="#fff" stroke="#000" stroke-width="1.7"/>
<line x1="319.30" y1="516.50" x2="341.70" y2="516.50" stroke="#000" stroke-width="1.7" />
<line x1="324.60" y1="512.10" x2="336.40" y2="512.10" stroke="#000" stroke-width="1.7" />
<line x1="330.50" y1="512.10" x2="330.50" y2="516.50" stroke="#000" stroke-width="1.7" />
<line x1="324.60" y1="523.00" x2="336.40" y2="523.00" stroke="#000" stroke-width="1.7" />
<line x1="330.50" y1="516.50" x2="330.50" y2="523.00" stroke="#000" stroke-width="1.7" />
<line x1="351.80" y1="553.60" x2="374.40" y2="553.60" stroke="#000" stroke-width="1.7" />
<line x1="357.40" y1="549.10" x2="368.80" y2="549.10" stroke="#000" stroke-width="1.7" />
<line x1="363.10" y1="549.10" x2="363.10" y2="553.60" stroke="#000" stroke-width="1.7" />
<line x1="357.40" y1="558.90" x2="368.80" y2="558.90" stroke="#000" stroke-width="1.7" />
<line x1="363.10" y1="553.60" x2="363.10" y2="558.90" stroke="#000" stroke-width="1.7" />
<line x1="384.50" y1="569.70" x2="406.70" y2="569.70" stroke="#000" stroke-width="1.7" />
<line x1="389.80" y1="563.70" x2="401.40" y2="563.70" stroke="#000" stroke-width="1.7" />
<line x1="395.60" y1="563.70" x2="395.60" y2="569.70" stroke="#000" stroke-width="1.7" />
<line x1="389.80" y1="579.90" x2="401.40" y2="579.90" stroke="#000" stroke-width="1.7" />
<line x1="395.60" y1="569.70" x2="395.60" y2="579.90" stroke="#000" stroke-width="1.7" />
<line x1="416.80" y1="567.10" x2="439.40" y2="567.10" stroke="#000" stroke-width="1.7" />
<line x1="422.20" y1="563.70" x2="434.00" y2="563.70" stroke="#000" stroke-width="1.7" />
<line x1="428.10" y1="563.70" x2="428.10" y2="567.10" stroke="#000" stroke-width="1.7" />
<line x1="422.20" y1="570.90" x2="434.00" y2="570.90" stroke="#000" stroke-width="1.7" />
<line x1="428.10" y1="567.10" x2="428.10" y2="570.90" stroke="#000" stroke-width="1.7" />
<line x1="449.20" y1="548.90" x2="471.80" y2="548.90" stroke="#000" stroke-width="1.7" />
<line x1="454.70" y1="544.80" x2="466.30" y2="544.80" stroke="#000" stroke-width="1.7" />
<line x1="460.50" y1="544.80" x2="460.50" y2="548.90" stroke="#000" stroke-width="1.7" />
<line x1="454.70" y1="554.80" x2="466.30" y2="554.80" stroke="#000" stroke-width="1.7" />
<line x1="460.50" y1="548.90" x2="460.50" y2="554.80" stroke="#000" stroke-width="1.7" />
<line x1="482.40" y1="525.40" x2="503.60" y2="525.40" stroke="#000" stroke-width="1.7" />
<line x1="487.70" y1="522.60" x2="498.30" y2="522.60" stroke="#000" stroke-width="1.7" />
<line x1="493.00" y1="522.60" x2="493.00" y2="525.40" stroke="#000" stroke-width="1.7" />
<line x1="487.70" y1="532.40" x2="498.30" y2="532.40" stroke="#000" stroke-width="1.7" />
<line x1="493.00" y1="525.40" x2="493.00" y2="532.40" stroke="#000" stroke-width="1.7" />
</svg>
</body></html>
